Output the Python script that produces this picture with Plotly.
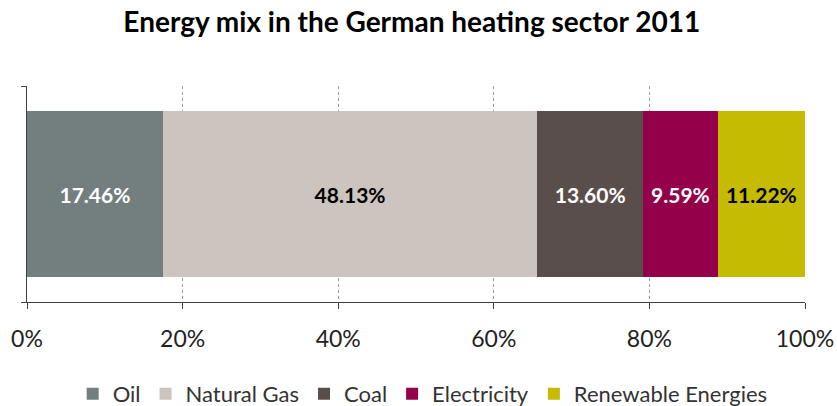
import plotly.graph_objects as go

# Shares of the German heating energy mix, 2011 (percent)
sources = ["Oil", "Natural Gas", "Coal", "Electricity", "Renewable Energies"]
shares = [17.46, 48.13, 13.60, 9.59, 11.22]
colors = ["#737e7f", "#cbc4bf", "#5a4e4d", "#95004b", "#c5bb00"]
label_colors = ["white", "black", "white", "white", "black"]
tick_vals = [0, 20, 40, 60, 80, 100]
tick_text = [f"{v}%" for v in tick_vals]

FONT = "Lato, Open Sans, sans-serif"

fig = go.Figure()
for name, val, col, tcol in zip(sources, shares, colors, label_colors):
    fig.add_trace(go.Bar(
        x=[val], y=[0], name=name, orientation="h",
        marker=dict(color=col, line=dict(width=0)),
        width=0.773,
        text=[f"{val:.2f}%"], textposition="inside",
        insidetextanchor="middle",
        textfont=dict(family=FONT, size=21, color=tcol, weight="bold"),
        hoverinfo="skip",
    ))

fig.update_layout(
    barmode="stack",
    width=837, height=406,
    margin=dict(l=27, r=32, t=86, b=104, autoexpand=False),
    paper_bgcolor="white", plot_bgcolor="white",
    title=dict(
        text="<b>Energy mix in the German heating sector 2011</b>",
        font=dict(family=FONT, size=28, color="black"),
        x=0.492, xanchor="center", xref="container",
        y=1 - 22 / 406, yanchor="middle", yref="container",
    ),
    legend=dict(
        orientation="h", x=0.505, xanchor="center", xref="container",
        y=1 - 394 / 406, yanchor="middle", yref="container",
        font=dict(family=FONT, size=22, color="#333333"),
        traceorder="normal", itemclick=False,
    ),
    xaxis=dict(
        range=[0, 100], tickvals=tick_vals, ticktext=tick_text,
        showgrid=True, gridcolor="#9a9a9a", griddash="dot", gridwidth=1,
        zeroline=False, showline=True, linecolor="#404040", linewidth=1,
        ticks="outside", ticklen=6, tickcolor="#404040",
        tickfont=dict(family=FONT, size=23, color="#222222"),
        ticklabelstandoff=10, fixedrange=True,
    ),
    yaxis=dict(
        range=[-0.5, 0.5], tickvals=[-0.5, 0.5], showticklabels=False,
        showgrid=False, zeroline=False, showline=True,
        linecolor="#404040", linewidth=1,
        ticks="outside", ticklen=5, tickcolor="#404040", fixedrange=True,
    ),
)

fig.write_html("out.html")
